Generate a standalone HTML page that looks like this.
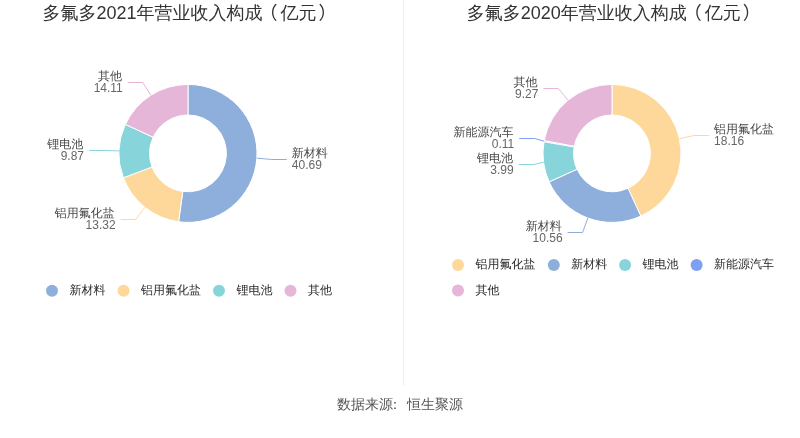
<!DOCTYPE html>
<html><head><meta charset="utf-8"><style>
html,body{margin:0;padding:0;background:#fff;width:800px;height:438px;overflow:hidden}
svg{display:block;will-change:transform}
text{font-family:"Liberation Sans", "WenQuanYi Zen Hei", sans-serif}
.l{font-size:12px;fill:#484848}
.v{font-size:12px;fill:#666}
.g{font-size:12px;fill:#2a2a2a}
.t{font-size:18px;fill:#333}
.s{font-size:14px;fill:#555}
.n{font-family:"Liberation Sans","Noto Sans CJK SC",sans-serif}
</style></head><body>
<svg width="800" height="438" viewBox="0 0 800 438">
<path d="M188.000,84.400A69.0,69.0 0 1 1 178.607,221.758L182.773,191.443A38.4,38.4 0 1 0 188.000,115.000Z" fill="#8eaedc" stroke="#fff" stroke-width="1" stroke-linejoin="round"/>
<path d="M178.607,221.758A69.0,69.0 0 0 1 123.451,177.780L152.077,166.968A38.4,38.4 0 0 0 182.773,191.443Z" fill="#fed89b" stroke="#fff" stroke-width="1" stroke-linejoin="round"/>
<path d="M123.451,177.780A69.0,69.0 0 0 1 125.398,124.383L153.161,137.251A38.4,38.4 0 0 0 152.077,166.968Z" fill="#87d5da" stroke="#fff" stroke-width="1" stroke-linejoin="round"/>
<path d="M125.398,124.383A69.0,69.0 0 0 1 188.000,84.400L188.000,115.000A38.4,38.4 0 0 0 153.161,137.251Z" fill="#e6b6d8" stroke="#fff" stroke-width="1" stroke-linejoin="round"/>
<path d="M612.000,84.400A69.0,69.0 0 0 1 640.806,216.099L628.031,188.294A38.4,38.4 0 0 0 612.000,115.000Z" fill="#fed89b" stroke="#fff" stroke-width="1" stroke-linejoin="round"/>
<path d="M640.806,216.099A69.0,69.0 0 0 1 549.140,181.855L577.017,169.236A38.4,38.4 0 0 0 628.031,188.294Z" fill="#8eaedc" stroke="#fff" stroke-width="1" stroke-linejoin="round"/>
<path d="M549.140,181.855A69.0,69.0 0 0 1 544.001,141.689L574.157,146.883A38.4,38.4 0 0 0 577.017,169.236Z" fill="#87d5da" stroke="#fff" stroke-width="1" stroke-linejoin="round"/>
<path d="M544.001,141.689A69.0,69.0 0 0 1 544.203,140.574L574.269,146.262A38.4,38.4 0 0 0 574.157,146.883Z" fill="#7f9ff4" stroke="#fff" stroke-width="1" stroke-linejoin="round"/>
<path d="M544.203,140.574A69.0,69.0 0 0 1 612.000,84.400L612.000,115.000A38.4,38.4 0 0 0 574.269,146.262Z" fill="#e6b6d8" stroke="#fff" stroke-width="1" stroke-linejoin="round"/>
<polyline points="256.84,158.11 271.80,159.50 286.80,159.50" fill="none" stroke="#8eaedc" stroke-width="1"/><text x="291.80" y="157.00" text-anchor="start" class="l">新材料</text><text x="291.80" y="169.00" text-anchor="start" class="v">40.69</text>
<polyline points="144.98,207.35 135.63,219.50 120.63,219.50" fill="none" stroke="#fed89b" stroke-width="1"/><text x="114.83" y="217.00" text-anchor="end" class="l">铝用氟化盐</text><text x="115.63" y="229.00" text-anchor="end" class="v">13.32</text>
<polyline points="119.05,150.89 104.06,150.50 89.06,150.50" fill="none" stroke="#87d5da" stroke-width="1"/><text x="83.26" y="148.00" text-anchor="end" class="l">锂电池</text><text x="84.06" y="160.00" text-anchor="end" class="v">9.87</text>
<polyline points="150.86,95.25 142.79,82.50 127.79,82.50" fill="none" stroke="#e6b6d8" stroke-width="1"/><text x="121.99" y="80.00" text-anchor="end" class="l">其他</text><text x="122.79" y="92.00" text-anchor="end" class="v">14.11</text>
<polyline points="679.41,138.66 694.06,135.50 709.06,135.50" fill="none" stroke="#fed89b" stroke-width="1"/><text x="714.06" y="133.00" text-anchor="start" class="l">铝用氟化盐</text><text x="714.06" y="145.00" text-anchor="start" class="v">18.16</text>
<polyline points="587.85,218.04 582.60,232.50 567.60,232.50" fill="none" stroke="#8eaedc" stroke-width="1"/><text x="561.80" y="230.00" text-anchor="end" class="l">新材料</text><text x="562.60" y="242.00" text-anchor="end" class="v">10.56</text>
<polyline points="543.56,162.16 533.70,164.50 518.70,164.50" fill="none" stroke="#87d5da" stroke-width="1"/><text x="512.90" y="162.00" text-anchor="end" class="l">锂电池</text><text x="513.70" y="174.00" text-anchor="end" class="v">3.99</text>
<polyline points="544.10,141.13 534.50,138.50 519.20,138.50" fill="none" stroke="#7f9ff4" stroke-width="1"/><text x="513.40" y="136.00" text-anchor="end" class="l">新能源汽车</text><text x="514.20" y="148.00" text-anchor="end" class="v">0.11</text>
<polyline points="567.98,100.27 558.41,88.50 543.41,88.50" fill="none" stroke="#e6b6d8" stroke-width="1"/><text x="537.61" y="86.00" text-anchor="end" class="l">其他</text><text x="538.41" y="98.00" text-anchor="end" class="v">9.27</text>
<circle cx="52" cy="290.8" r="6" fill="#8eaedc"/><text x="69.5" y="293.8" class="g">新材料</text>
<circle cx="123.6" cy="290.8" r="6" fill="#fed89b"/><text x="141.1" y="293.8" class="g">铝用氟化盐</text>
<circle cx="219" cy="290.8" r="6" fill="#87d5da"/><text x="236.5" y="293.8" class="g">锂电池</text>
<circle cx="290.5" cy="290.8" r="6" fill="#e6b6d8"/><text x="308.0" y="293.8" class="g">其他</text>
<circle cx="458" cy="265.1" r="6" fill="#fed89b"/><text x="475.5" y="268.1" class="g">铝用氟化盐</text>
<circle cx="553.8" cy="265.1" r="6" fill="#8eaedc"/><text x="571.3" y="268.1" class="g">新材料</text>
<circle cx="625.1" cy="265.1" r="6" fill="#87d5da"/><text x="642.6" y="268.1" class="g">锂电池</text>
<circle cx="696.6" cy="265.1" r="6" fill="#7f9ff4"/><text x="714.1" y="268.1" class="g">新能源汽车</text>
<circle cx="458" cy="290.6" r="6" fill="#e6b6d8"/><text x="475.5" y="293.6" class="g">其他</text>
<text x="189.5" y="18.5" text-anchor="middle" class="t">多氟多2021年营业收入构成<tspan class="n" dx="-3">（</tspan><tspan dx="3">亿元</tspan><tspan class="n" dx="2">）</tspan></text>
<text x="613.8" y="18.5" text-anchor="middle" class="t">多氟多2020年营业收入构成<tspan class="n" dx="-3">（</tspan><tspan dx="3">亿元</tspan><tspan class="n" dx="2">）</tspan></text>
<rect x="403" y="0" width="1" height="386" fill="#f0f0f0"/>
<text x="337" y="409" class="s">数据来源<tspan dx="-5">：</tspan><tspan dx="5">恒生聚源</tspan></text>
</svg>
</body></html>
